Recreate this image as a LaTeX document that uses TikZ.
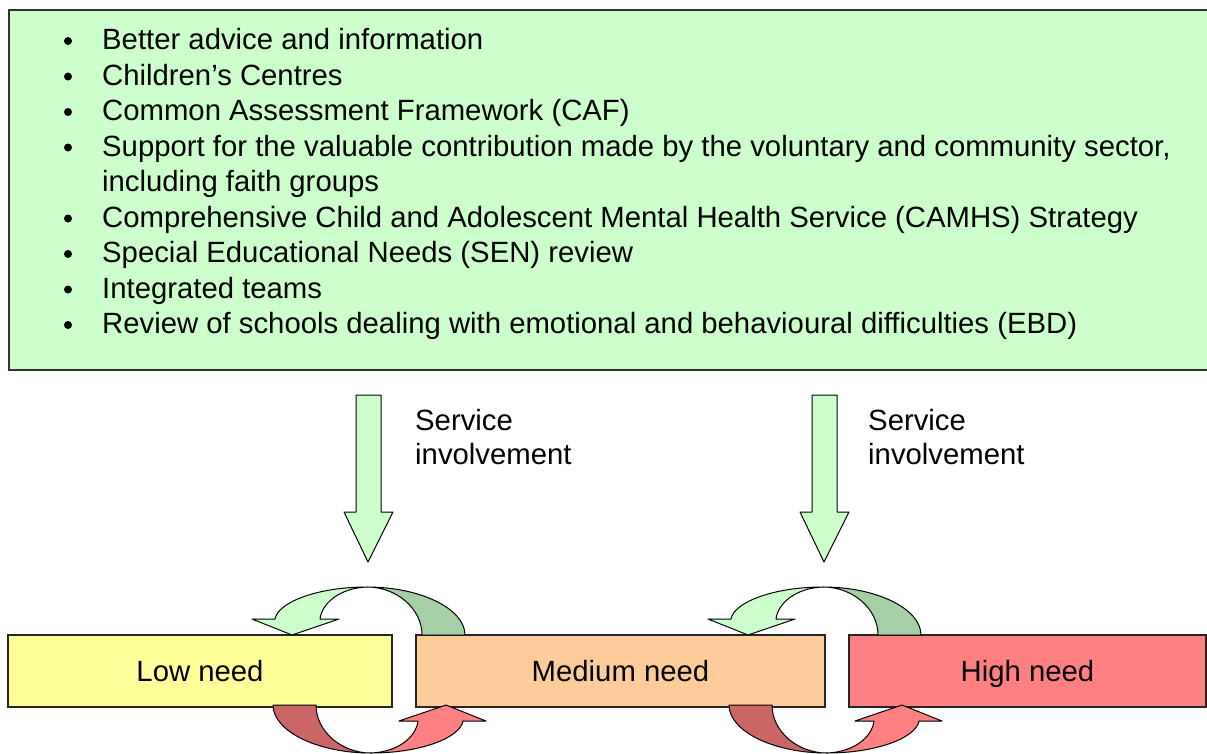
\documentclass[tikz,border=0pt]{standalone}
\usepackage{fontspec}
\setmainfont{Liberation Sans}
\definecolor{topgreen}{HTML}{CCFFCC}
\definecolor{darkgreen}{HTML}{A5CFA5}
\definecolor{lowc}{HTML}{FFFF99}
\definecolor{medc}{HTML}{FFCC99}
\definecolor{highc}{HTML}{FF8080}
\definecolor{darkred}{HTML}{CC6666}
\begin{document}
\begin{tikzpicture}[x=1pt,y=-1pt,
  txt/.style={anchor=base west,inner sep=0pt,font=\fontsize{29.3}{34}\selectfont},
  needbox/.style={draw=black!85,line width=1.2pt,minimum height=72pt,inner sep=0pt,text height=27pt,text depth=6pt,font=\fontsize{29.3}{34}\selectfont},
  shp/.style={draw=black,line width=1pt,line join=round}]
\useasboundingbox (0,0) rectangle (1207,753);
\node[draw=black!80,line width=1.5pt,fill=topgreen,minimum width=1220pt,minimum height=360pt,inner sep=0pt,anchor=north west] (top) at (8,9) {};
\foreach \i/\t in {0/{Better advice and information},1/{Children’s Centres},2/{Common Assessment Framework (CAF)},3/{Support for the valuable contribution made by the voluntary and community sector,},5/{Comprehensive Child and Adolescent Mental Health Service (CAMHS) Strategy},6/{Special Educational Needs (SEN) review},7/{Integrated teams},8/{Review of schools dealing with emotional and behavioural difficulties (EBD)}}{
  \fill (68,49.5+35.5*\i-8.5) circle (4);
  \node[txt] (l\i) at (102,49.5+35.5*\i) {\t};
}
\node[txt] (l4) at (102,49.5+35.5*4) {including faith groups};
% down arrows
\foreach \s/\n/\ts in {0/a/0,456/b/453}{
  \begin{scope}[xshift=\s pt]
  \draw[shp,fill=topgreen] (356,395)--(381,395)--(381,512)--(393,512)--(368,562)--(344,512)--(356,512)--cycle;
  \end{scope}
  \node[txt] (s\n1) at (415+\ts,430) {Service};
  \node[txt] (s\n2) at (415+\ts,464) {involvement};
}
% need boxes
\node[needbox,fill=lowc,minimum width=384pt] (low) at (200,671) {Low need};
\node[needbox,fill=medc,minimum width=409pt] (med) at (620.5,671) {Medium need};
\node[needbox,fill=highc,minimum width=357pt] (high) at (1027.5,671) {High need};
% curved arrows
\foreach \s in {0,456}{
  \begin{scope}[xshift=\s pt]
  \draw[shp,fill=darkgreen] (422,635) .. controls (422,609) and (397,587) .. (367,587)
     .. controls (421,587) and (465,609) .. (465,635) -- cycle;
  \draw[shp,fill=topgreen] (367,587) .. controls (318,587) and (278,602) .. (275,619)
     -- (252,619) -- (292,635) -- (339,619) -- (320,619)
     .. controls (322,603) and (340,588) .. (367,587) -- cycle;
  \begin{scope}[rotate around={180:(369,670)}]
  \draw[shp,fill=darkred] (422,635) .. controls (422,609) and (397,587) .. (367,587)
     .. controls (421,587) and (465,609) .. (465,635) -- cycle;
  \draw[shp,fill=highc] (367,587) .. controls (318,587) and (278,602) .. (275,619)
     -- (252,619) -- (292,635) -- (339,619) -- (320,619)
     .. controls (322,603) and (340,588) .. (367,587) -- cycle;
  \end{scope}
  \end{scope}
}
\end{tikzpicture}
\end{document}
